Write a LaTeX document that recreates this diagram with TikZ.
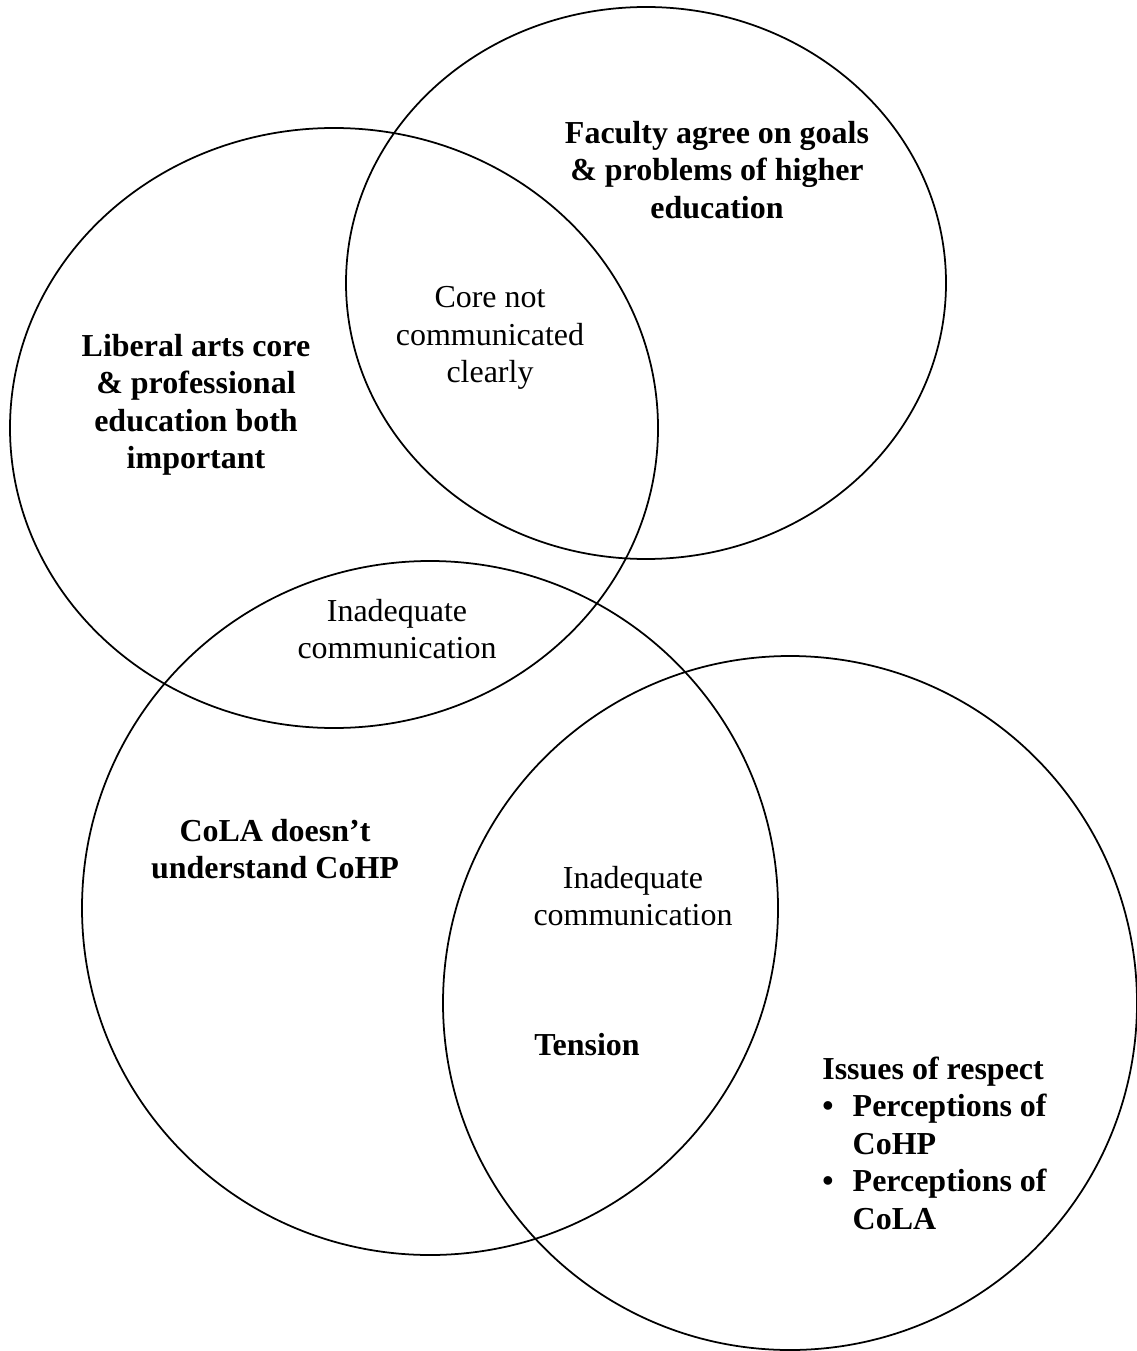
\documentclass[tikz,border=0pt]{standalone}
\usepackage{fontspec}
\setmainfont{Liberation Serif}
\usetikzlibrary{positioning}

\begin{document}
\begin{tikzpicture}[x=0.02cm, y=-0.02cm,
  venn/.style={draw=black, line width=1pt},
  label/.style={align=center, font=\fontsize{18.2}{21.3}\selectfont},
  boldlabel/.style={label, font=\fontsize{18.2}{21.3}\selectfont\bfseries}]
  % Page area
  \useasboundingbox (0,0) rectangle (1136,1351);

  % The four sets
  \draw[venn] (646,283) ellipse [x radius=300, y radius=276];
  \draw[venn] (334,428) ellipse [x radius=324, y radius=300];
  \draw[venn] (430,908) ellipse [x radius=348, y radius=347];
  \draw[venn] (790,1003) ellipse [x radius=347, y radius=347];

  % Set labels
  \node[boldlabel] (faculty) at (717,170) {Faculty agree on goals\\ \& problems of higher\\ education};
  \node[boldlabel] (liberal) at (196,405) {Liberal arts core\\ \& professional\\ education both\\ important};
  \node[boldlabel] (cola) at (275,849) {CoLA doesn’t\\ understand CoHP};

  % Overlaps
  \node[label] (core) at (490,338) {Core not\\ communicated\\ clearly};
  \node[label] (inadeqtop) at (397,629) {Inadequate\\ communication};
  \node[label] (inadeqlow) at (633,896) {Inadequate\\ communication};
  \node[boldlabel] (tension) at (587,1045) {Tension};

  % Respect list
  \node[boldlabel, align=left, anchor=north west, inner sep=0pt] (respect) at (822,1053)
    {\begin{tabular}{@{}l@{\hspace{0.6em}}l@{}}
      \multicolumn{2}{@{}l}{Issues of respect}\\
      \textbullet & Perceptions of\\
                  & CoHP\\
      \textbullet & Perceptions of\\
                  & CoLA
    \end{tabular}};
\end{tikzpicture}
\end{document}
